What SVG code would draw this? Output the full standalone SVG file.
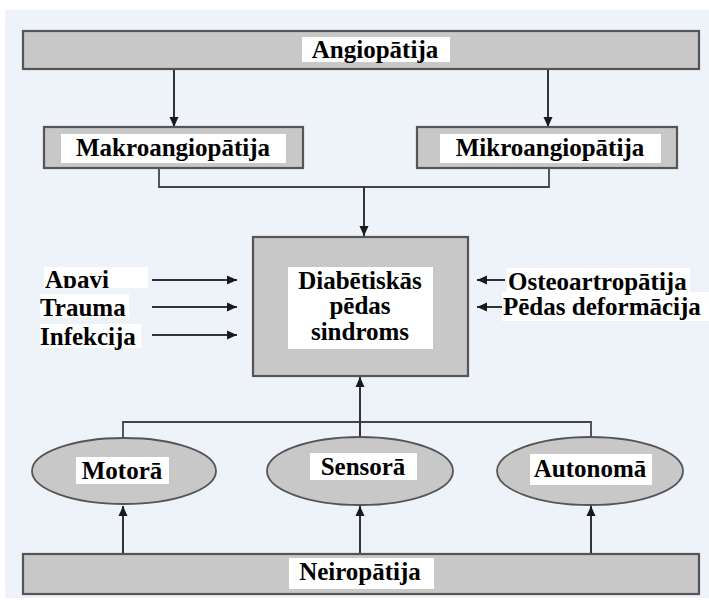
<svg xmlns="http://www.w3.org/2000/svg" width="709" height="606" viewBox="0 0 709 606">
<defs>
<marker id="ah" viewBox="0 0 10 10" refX="10" refY="5" markerWidth="10" markerHeight="10" markerUnits="userSpaceOnUse" orient="auto">
<path d="M0,0.5 L10,5 L0,9.5 Z" fill="#1a1a1a"/>
</marker>
<clipPath id="apaviClip"><rect x="44" y="267" width="104" height="21"/></clipPath>
<style>
.box{fill:#c8c8c8;stroke:#555;stroke-width:2.2}
.ell{fill:#c8c8c8;stroke:#555;stroke-width:1.8}
.lbl{fill:#fff}
.t{font-family:"Liberation Serif","Times New Roman",serif;font-weight:bold;font-size:25px;fill:#000}
.c{fill:none;stroke:#444;stroke-width:1.8}
.a{fill:none;stroke:#333;stroke-width:2;marker-end:url(#ah)}
</style>
</defs>
<rect x="0" y="0" width="709" height="606" fill="#fff"/>
<rect x="5" y="10" width="704" height="588" fill="#eef2f9"/>

<g id="connectors">
<line class="a" x1="174" y1="70" x2="174" y2="127"/>
<line class="a" x1="548" y1="70" x2="548" y2="127"/>
<polyline class="c" points="159,168 159,187 549,187 549,168"/>
<line class="a" x1="364" y1="187" x2="364" y2="236"/>
<polyline class="c" points="123,438 123,422 591,422 591,438"/>
<line class="a" x1="360" y1="438" x2="360" y2="377"/>
<line class="a" x1="123" y1="554" x2="123" y2="506"/>
<line class="a" x1="360" y1="554" x2="360" y2="506"/>
<line class="a" x1="591" y1="554" x2="591" y2="506"/>
<line class="a" x1="152" y1="280" x2="237" y2="280"/>
<line class="a" x1="152" y1="307" x2="237" y2="307"/>
<line class="a" x1="152" y1="335" x2="237" y2="335"/>
<line class="a" x1="505" y1="280" x2="477" y2="280"/>
<line class="a" x1="505" y1="307" x2="477" y2="307"/>
</g>

<g id="angiopatija">
<rect class="box" x="23" y="31" width="676" height="38"/>
<rect class="lbl" x="302" y="37" width="148" height="25"/>
<text class="t" x="375" y="58" text-anchor="middle">Angiopātija</text>
</g>

<g id="makroangiopatija">
<rect class="box" x="44" y="127" width="259" height="41"/>
<rect class="lbl" x="61" y="134" width="225" height="29"/>
<text class="t" x="173" y="156" text-anchor="middle">Makroangiopātija</text>
</g>

<g id="mikroangiopatija">
<rect class="box" x="417" y="127" width="260" height="41"/>
<rect class="lbl" x="440" y="134" width="221" height="29"/>
<text class="t" x="550" y="156" text-anchor="middle">Mikroangiopātija</text>
</g>

<g id="sindroms">
<rect class="box" x="253" y="237" width="215" height="139"/>
<rect class="lbl" x="288" y="267" width="145" height="82"/>
<text class="t" x="360" y="289" text-anchor="middle">Diabētiskās</text>
<text class="t" x="360" y="314" text-anchor="middle">pēdas</text>
<text class="t" x="360" y="340" text-anchor="middle">sindroms</text>
</g>

<g id="apavi">
<rect class="lbl" x="44" y="267" width="104" height="21"/>
<text class="t" x="45" y="288" clip-path="url(#apaviClip)">Apavi</text>
</g>
<g id="trauma">
<rect class="lbl" x="40" y="294" width="89" height="24"/>
<text class="t" x="40" y="316">Trauma</text>
</g>
<g id="infekcija">
<rect class="lbl" x="40" y="324" width="101" height="24"/>
<text class="t" x="40" y="345">Infekcija</text>
</g>

<g id="pedas-deformacija">
<rect class="lbl" x="502" y="292" width="207" height="29"/>
<text class="t" x="503" y="315">Pēdas deformācija</text>
</g>
<g id="osteoartropatija">
<rect class="lbl" x="507" y="268" width="183" height="24"/>
<text class="t" x="508" y="290">Osteoartropātija</text>
</g>

<g id="motora">
<ellipse class="ell" cx="124" cy="471" rx="92" ry="33"/>
<rect class="lbl" x="76" y="457" width="93" height="27"/>
<text class="t" x="122" y="479" text-anchor="middle">Motorā</text>
</g>
<g id="sensora">
<ellipse class="ell" cx="360" cy="471" rx="93" ry="34"/>
<rect class="lbl" x="310" y="453" width="107" height="27"/>
<text class="t" x="363" y="475" text-anchor="middle">Sensorā</text>
</g>
<g id="autonoma">
<ellipse class="ell" cx="590" cy="471" rx="93" ry="34"/>
<rect class="lbl" x="530" y="454" width="122" height="31"/>
<text class="t" x="590" y="477" text-anchor="middle">Autonomā</text>
</g>

<g id="neiropatija">
<rect class="box" x="23" y="554" width="676" height="40"/>
<rect class="lbl" x="289" y="558" width="145" height="31"/>
<text class="t" x="360" y="580" text-anchor="middle">Neiropātija</text>
</g>
</svg>
